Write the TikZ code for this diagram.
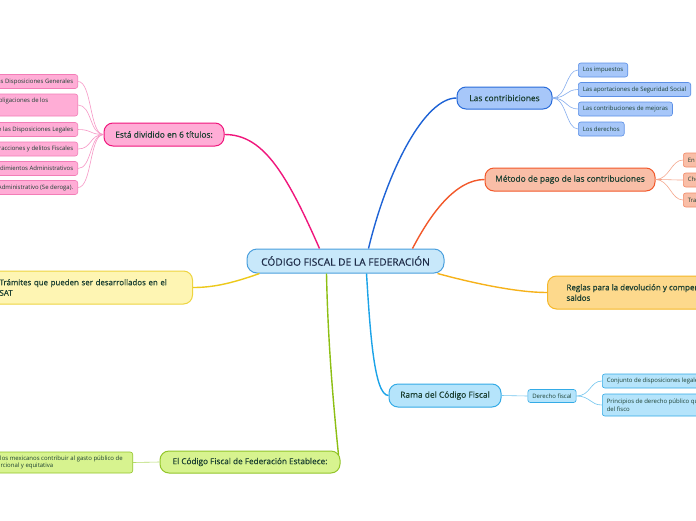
\documentclass[tikz,border=0pt]{standalone}
\usepackage{fontspec}
\setmainfont{Open Sans}
\newfontfamily\semib{Open Sans}[FakeBold=0.5]
\usetikzlibrary{calc}
\definecolor{txt}{HTML}{1B3F31}
\definecolor{ctxt}{HTML}{1E2C48}
\definecolor{cfill}{HTML}{C8E8FA}\definecolor{cdraw}{HTML}{4A9FDD}
\definecolor{pkline}{HTML}{F0167C}\definecolor{pkfill}{HTML}{FFADD6}\definecolor{pkdraw}{HTML}{F0167C}\definecolor{pkleaf}{HTML}{F27DB7}\definecolor{pkthin}{HTML}{F797C6}
\definecolor{blline}{HTML}{1E63D6}\definecolor{blfill}{HTML}{A7C7F9}\definecolor{bldraw}{HTML}{2A6CDA}\definecolor{blleaf}{HTML}{5B8FE6}\definecolor{blthin}{HTML}{86AEEE}
\definecolor{orline}{HTML}{F2582A}\definecolor{orfill}{HTML}{F9BEA7}\definecolor{ordraw}{HTML}{F2582A}\definecolor{orleaf}{HTML}{F28B6A}\definecolor{orthin}{HTML}{F5A68C}
\definecolor{yoline}{HTML}{F6B21A}\definecolor{yofill}{HTML}{FDD98C}\definecolor{yodraw}{HTML}{F5B727}
\definecolor{lbline}{HTML}{1BA3E8}\definecolor{lbfill}{HTML}{B5E4FB}\definecolor{lbdraw}{HTML}{34ABE6}\definecolor{lbthin}{HTML}{72C6EF}
\definecolor{grline}{HTML}{8DBF13}\definecolor{grfill}{HTML}{D7F38F}\definecolor{grdraw}{HTML}{93C52A}\definecolor{grthin}{HTML}{B5DB6A}
\definecolor{yeline}{HTML}{EDC91A}\definecolor{yefill}{HTML}{FEF5B3}\definecolor{yedraw}{HTML}{EED43F}
\begin{document}
\begin{tikzpicture}[x=1pt,y=-1pt,
  mainbox/.style={draw, rounded corners=9pt, line width=1pt, minimum height=22pt, inner xsep=0pt, inner ysep=1pt, font=\semib\fontsize{8.4}{11}\selectfont, text=txt},
  leafbox/.style={draw, rounded corners=2.5pt, line width=0.6pt, minimum height=14pt, inner xsep=4.5pt, inner ysep=1pt, font=\fontsize{6}{7.8}\selectfont, text=txt, align=left},
  thick line/.style={line width=1.4pt},
  thin line/.style={line width=0.6pt}]
\useasboundingbox (0,0) rectangle (696,520);
\fill[white] (0,0) rectangle (696,520);
\clip (0,0) rectangle (696,520);

% central
\node[draw=cdraw, fill=cfill, rounded corners=10pt, line width=1pt, minimum width=197pt, minimum height=24pt, text=ctxt, font=\semib\fontsize{10.2}{12}\selectfont] (c) at (345.5,261) {CÓDIGO FISCAL DE LA FEDERACIÓN};

% pink branch
\node[mainbox, draw=pkdraw, fill=pkfill, minimum width=120pt, minimum height=23pt] (p) at (164,134.5) {Está dividido en 6 títulos:};
\node[leafbox, draw=pkleaf, fill=pkfill, anchor=east] (p1) at (78,81.5) {Título I. De las Disposiciones Generales};
\node[leafbox, draw=pkleaf, fill=pkfill, anchor=east, minimum height=22pt] (p2) at (78,105) {Título II. De los Derechos y Obligaciones de los\rule{25pt}{0pt}\\Contribuyentes};
\node[leafbox, draw=pkleaf, fill=pkfill, anchor=east] (p3) at (78,129.5) {Título III. De las Facultades de las Disposiciones Legales};
\node[leafbox, draw=pkleaf, fill=pkfill, anchor=east] (p4) at (78,149) {Título IV. De las Infracciones y delitos Fiscales};
\node[leafbox, draw=pkleaf, fill=pkfill, anchor=east] (p5) at (78,168.5) {Título V. De los Procedimientos Administrativos};
\node[leafbox, draw=pkleaf, fill=pkfill, anchor=east] (p6) at (78,187.5) {Título VI. Del Contencioso Administrativo (Se deroga).};

% blue branch
\node[mainbox, draw=bldraw, fill=blfill, minimum width=95pt] (b) at (504.5,98) {Las contribiciones};
\node[leafbox, draw=blleaf, fill=blfill, anchor=west] (b1) at (578,70) {Los impuestos};
\node[leafbox, draw=blleaf, fill=blfill, anchor=west] (b2) at (578,89.5) {Las aportaciones de Seguridad Social};
\node[leafbox, draw=blleaf, fill=blfill, anchor=west] (b3) at (578,109) {Las contribuciones de mejoras};
\node[leafbox, draw=blleaf, fill=blfill, anchor=west] (b4) at (578,129) {Los derechos};

% orange branch
\node[mainbox, draw=ordraw, fill=orfill, minimum width=170pt, minimum height=23pt] (o) at (570,179.5) {Método de pago de las contribuciones};
\node[leafbox, draw=orleaf, fill=orfill, anchor=west] (o1) at (683,160) {En efectivo};
\node[leafbox, draw=orleaf, fill=orfill, anchor=west] (o2) at (683,180) {Cheques};
\node[leafbox, draw=orleaf, fill=orfill, anchor=west] (o3) at (683,200) {Transferencia electrónica};

% yellow-orange branch
\node[mainbox, draw=yodraw, fill=yofill, anchor=west, minimum height=33pt, inner xsep=19pt, align=left, font=\semib\fontsize{8}{10.5}\selectfont] (r) at (547,292.5) {Reglas para la devolución y compensación de\\saldos};

% yellow branch
\node[mainbox, draw=yedraw, fill=yefill, anchor=east, minimum height=33pt, inner xsep=12pt, align=left, text width=181pt, font=\semib\fontsize{7.9}{10.5}\selectfont] (t) at (193,287.5) {Trámites que pueden ser desarrollados en el\\SAT};

% light blue branch
\node[mainbox, draw=lbdraw, fill=lbfill, minimum width=112pt, minimum height=23pt] (rm) at (445,395.5) {Rama del Código Fiscal};
\node[leafbox, draw=lbdraw, fill=lbfill, minimum width=48pt, minimum height=13pt] (df) at (552,396) {Derecho fiscal};
\node[leafbox, draw=lbdraw, fill=lbfill, anchor=west] (lb1) at (602,381) {Conjunto de disposiciones legales que regulan la actividad financiera del Estado};
\node[leafbox, draw=lbdraw, fill=lbfill, anchor=west, minimum height=22pt] (lb2) at (602,405) {Principios de derecho público que regulan la actividad\\del fisco};

% green branch
\node[mainbox, draw=grdraw, fill=grfill, minimum width=180pt, font=\semib\fontsize{8.2}{11}\selectfont] (g) at (250,462) {El Código Fiscal de Federación Establece:};
\node[leafbox, draw=grdraw, fill=grfill, anchor=east, minimum height=21pt, inner xsep=10pt] (g1) at (133,462.5) {Obligación de los mexicanos contribuir al gasto público de\\manera proporcional y equitativa};

% main connectors
\draw[thick line, pkline] ($(c.north west)+(73,0)$) .. controls (285,170) and (262,134.5) .. (p.east);
\draw[thick line, blline] ($(c.north west)+(122,0)$) .. controls (388,168) and (425,98) .. (b.west);
\draw[thick line, orline] ($(c.north west)+(166,0)$) .. controls (430,215) and (455,179.5) .. (o.west);
\draw[thick line, yoline] ($(c.south east)+(-7,0)$) .. controls (480,285) and (520,292.5) .. (r.west);
\draw[thick line, yeline] ($(c.south west)+(13,0)$) .. controls (230,284) and (212,287.5) .. (t.east);
\draw[thick line, grline] ($(c.south west)+(80,0)$) .. controls (328,350) and (335,420) .. ($(g.east)+(-2,-7)$);
\draw[thick line, lbline] ($(c.south west)+(120,0)$) .. controls (370,330) and (374,395.5) .. (rm.west);

% leaf connectors
\foreach \n in {p1,p2,p3,p4,p5,p6}
  \draw[thin line, pkthin] (p.west) .. controls +(-14,0) and +(14,0) .. (\n.east);
\foreach \n in {b1,b2,b3,b4}
  \draw[thin line, blthin] (b.east) .. controls +(14,0) and +(-12,0) .. (\n.west);
\foreach \n in {o1,o2,o3}
  \draw[thin line, orthin] (o.east) .. controls +(14,0) and +(-12,0) .. (\n.west);
\draw[thin line, lbthin] (rm.east) -- (df.west);
\foreach \n in {lb1,lb2}
  \draw[thin line, lbthin] (df.east) .. controls +(14,0) and +(-12,0) .. (\n.west);
\draw[thin line, grthin] (g.west) -- (g1.east);
\end{tikzpicture}
\end{document}
